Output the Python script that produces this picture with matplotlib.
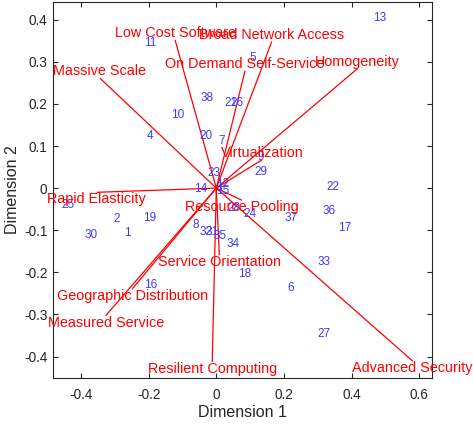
import matplotlib
matplotlib.use("Agg")
import matplotlib.pyplot as plt

plt.rcParams['font.family'] = ['Liberation Sans', 'DejaVu Sans']
plt.rcParams['axes.unicode_minus'] = False

var_names = ["Massive Scale", "Low Cost Software", "Broad Network Access",
             "On Demand Self-Service", "Homogeneity", "Virtualization",
             "Rapid Elasticity", "Resource Pooling", "Service Orientation",
             "Geographic Distribution", "Measured Service", "Resilient Computing",
             "Advanced Security"]
var_x = [-0.344, -0.122, 0.164, 0.085, 0.418, 0.135, -0.354, 0.076, 0.009,
         -0.249, -0.327, -0.012, 0.581]
var_y = [0.261, 0.352, 0.348, 0.279, 0.284, 0.067, -0.010, -0.029, -0.159,
         -0.240, -0.303, -0.413, -0.411]

obs_ids = [13, 11, 5, 38, 21, 26, 10, 4, 20, 7, 9, 29, 23, 14, 12, 15, 3,
           22, 36, 17, 37, 24, 28, 25, 2, 19, 30, 1, 8, 32, 31, 35, 34,
           18, 33, 6, 27, 16]
obs_x = [0.484, -0.194, 0.109, -0.028, 0.044, 0.061, -0.114, -0.196, -0.030,
         0.016, 0.131, 0.131, -0.007, -0.045, 0.019, 0.019, 0.008,
         0.346, 0.333, 0.381, 0.221, 0.101, 0.052, -0.440, -0.295, -0.196,
         -0.369, -0.262, -0.060, -0.030, -0.013, 0.011, 0.049,
         0.083, 0.320, 0.221, 0.320, -0.193]
obs_y = [0.403, 0.344, 0.310, 0.214, 0.201, 0.201, 0.173, 0.124, 0.124,
         0.112, 0.073, 0.039, 0.037, -0.002, 0.010, -0.007, 0.000,
         0.002, -0.055, -0.094, -0.072, -0.062, -0.048, -0.040, -0.074, -0.070,
         -0.112, -0.106, -0.088, -0.104, -0.105, -0.114, -0.133,
         -0.204, -0.175, -0.238, -0.347, -0.229]

fig = plt.figure(figsize=(4.73, 4.25), dpi=100)
ax = fig.add_axes([53/473, 47/425, 379/473, 376/425])

red = '#ff0000'
blue = '#3a3aff'

for name, x, y in zip(var_names, var_x, var_y):
    ax.plot([0, x], [0, y], color=red, lw=0.9, solid_capstyle='butt', zorder=2)
for name, x, y in zip(var_names, var_x, var_y):
    ax.text(x, y, name, color=red, fontsize=10.4, ha='center',
            va='bottom' if y >= 0 else 'top', zorder=4)

for i, x, y in zip(obs_ids, obs_x, obs_y):
    ax.text(x, y, str(i), color=blue, fontsize=8.5, ha='center', va='center', zorder=3)

ax.set_xlim(-0.483, 0.638)
ax.set_ylim(-0.451, 0.442)
ax.set_xticks([-0.4, -0.2, 0, 0.2, 0.4, 0.6])
ax.set_xticklabels(["-0.4", "-0.2", "0", "0.2", "0.4", "0.6"])
ax.set_yticks([-0.4, -0.3, -0.2, -0.1, 0, 0.1, 0.2, 0.3, 0.4])
ax.set_yticklabels(["-0.4", "-0.3", "-0.2", "-0.1", "0", "0.1", "0.2", "0.3", "0.4"])

dark = '#262626'
for s in ax.spines.values():
    s.set_color(dark)
    s.set_linewidth(0.8)
ax.tick_params(direction='in', top=True, right=True, length=3.5, width=0.8,
               colors=dark, labelsize=9.8)
ax.tick_params(axis='x', pad=7.5)
ax.tick_params(axis='y', pad=4)
ax.set_xlabel("Dimension 1", fontsize=11.5, color=dark, labelpad=2)
ax.set_ylabel("Dimension 2", fontsize=11.5, color=dark, labelpad=3)

fig.savefig("out.png", dpi=100)
